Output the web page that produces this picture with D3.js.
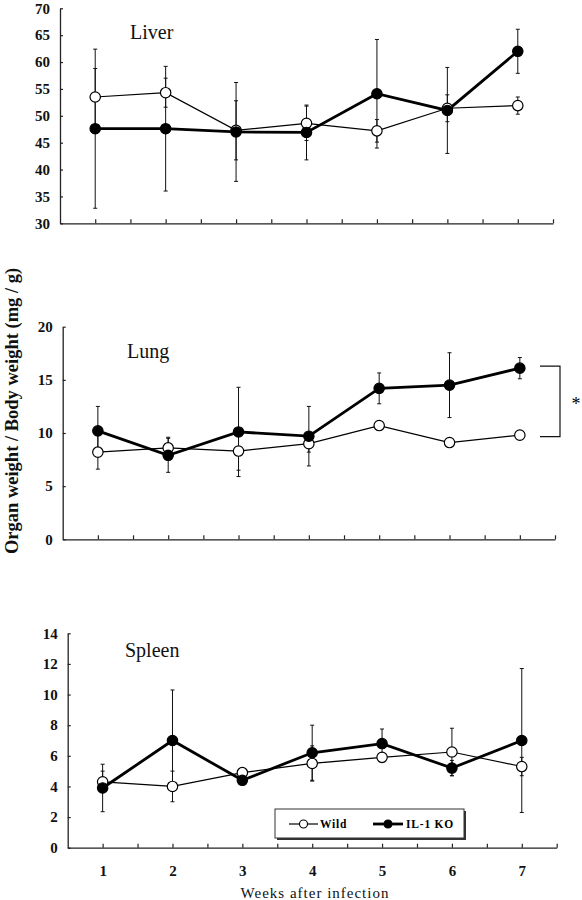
<!DOCTYPE html>
<html><head><meta charset="utf-8">
<script src="https://cdn.jsdelivr.net/npm/d3@7"></script>
<style>body{margin:0;background:#fff}svg{display:block}</style>
</head><body>
<svg id="c" width="582" height="900"></svg>
<script>
const weeks = [1, 2, 3, 4, 5, 6, 7];
const weekTicks = [1, 1.5, 2, 2.5, 3, 3.5, 4, 4.5, 5, 5.5, 6, 6.5, 7, 7.5];

const liverWild    = [53.5, 54.3, 47.3, 48.6, 47.2, 51.4, 51.9];
const liverWildErr = [5.3, 2.7, 5.5, 3.2, 2.1, 2.5, 1.6];
const liverKO      = [47.6, 47.6, 47.0, 46.9, 54.1, 51.0, 62.0];
const liverKOErr   = [14.8, 11.6, 9.2, 5.1, 10.1, 8.0, 4.1];
const liverTicks   = [30, 35, 40, 45, 50, 55, 60, 65, 70];

const lungWild    = [8.2, 8.6, 8.3, 9.0, 10.7, 9.1, 9.8];
const lungWildErr = [1.6, 1.0, 1.8, 0.8, 0.3, 0.3, 0.3];
const lungKO      = [10.2, 7.9, 10.1, 9.7, 14.2, 14.5, 16.1];
const lungKOErr   = [2.3, 1.6, 4.2, 2.8, 1.45, 3.05, 1.0];
const lungTicks   = [0, 5, 10, 15, 20];

const spleenWild    = [4.3, 4.0, 4.9, 5.5, 5.9, 6.25, 5.3];
const spleenWildErr = [0.7, 1.0, 0.2, 1.15, 0.3, 1.55, 0.6];
const spleenKO      = [3.9, 7.0, 4.4, 6.2, 6.8, 5.2, 7.0];
const spleenKOErr   = [1.55, 3.3, 0.2, 1.8, 0.95, 0.5, 4.7];
const spleenTicks   = [0, 2, 4, 6, 8, 10, 12, 14];

const sigBracket = [9.65, 16.3]; // lung significance bracket range

const svg = d3.select("#c");
const serif = "'Liberation Serif','Times New Roman',serif";

const panels = [
  {name:"Liver", wild:liverWild, wildErr:liverWildErr, ko:liverKO, koErr:liverKOErr, ticks:liverTicks,
   x0:60, x1:553, yTop:8.3, yBot:223.3, title:[130, 39]},
  {name:"Lung", wild:lungWild, wildErr:lungWildErr, ko:lungKO, koErr:lungKOErr, ticks:lungTicks,
   x0:62.7, x1:555, yTop:326.7, yBot:539.3, title:[127, 358]},
  {name:"Spleen", wild:spleenWild, wildErr:spleenWildErr, ko:spleenKO, koErr:spleenKOErr, ticks:spleenTicks,
   x0:67.7, x1:556.7, yTop:633.3, yBot:847.7, title:[125, 657]}
];

panels.forEach((p, pi) => {
  const x = d3.scaleLinear().domain([0.5, 7.5]).range([p.x0, p.x1]);
  const y = d3.scaleLinear().domain([p.ticks[0], p.ticks[p.ticks.length-1]]).range([p.yBot, p.yTop]);
  const g = svg.append("g");

  // y axis
  const ya = g.append("g").attr("transform", `translate(${p.x0},0)`)
    .call(d3.axisLeft(y).tickValues(p.ticks).tickSize(-3).tickPadding(10).tickSizeOuter(0));
  ya.attr("font-family", serif);
  ya.select(".domain").attr("stroke", "#222").attr("stroke-width", 1.3);
  ya.selectAll(".tick line").attr("stroke", "#222").attr("stroke-width", 1.2);
  ya.selectAll(".tick text").attr("font-family", serif).attr("font-weight", "bold")
    .attr("font-size", 15).attr("fill", "#111");

  // x axis
  const xa = g.append("g").attr("transform", `translate(0,${p.yBot})`)
    .call(d3.axisBottom(x).tickValues(weekTicks).tickSize(-4).tickSizeOuter(0)
      .tickFormat(d => (pi === 2 && Number.isInteger(d) && d <= 7) ? d : ""));
  xa.attr("font-family", serif);
  xa.select(".domain").attr("stroke", "#222").attr("stroke-width", 1.3);
  xa.selectAll(".tick line").attr("stroke", "#222").attr("stroke-width", 1.2);
  xa.selectAll(".tick text").attr("font-family", serif).attr("font-weight", "bold")
    .attr("font-size", 15).attr("fill", "#111").attr("dy", "1.7em");

  // title
  g.append("text").attr("x", p.title[0]).attr("y", p.title[1]).text(p.name)
    .attr("font-family", serif).attr("font-size", 20).attr("fill", "#111");

  const series = [
    {v:p.wild, e:p.wildErr, fill:"#fff", w:1.2},
    {v:p.ko, e:p.koErr, fill:"#000", w:2.8}
  ];
  // error bars
  series.forEach(s => {
    const eg = g.append("g").attr("stroke", "#111").attr("stroke-width", 1);
    weeks.forEach((wk, i) => {
      const cx = x(wk), yh = y(s.v[i] + s.e[i]), yl = y(s.v[i] - s.e[i]);
      eg.append("line").attr("x1", cx).attr("x2", cx).attr("y1", yh).attr("y2", yl);
      eg.append("line").attr("x1", cx-2).attr("x2", cx+2).attr("y1", yh).attr("y2", yh);
      eg.append("line").attr("x1", cx-2).attr("x2", cx+2).attr("y1", yl).attr("y2", yl);
    });
  });
  const line = d3.line().x((d, i) => x(weeks[i])).y(d => y(d));
  series.forEach(s => {
    g.append("path").attr("d", line(s.v)).attr("fill", "none").attr("stroke", "#000")
      .attr("stroke-width", s.w);
  });
  series.forEach(s => {
    g.selectAll(null).data(s.v).enter().append("circle")
      .attr("cx", (d, i) => x(weeks[i])).attr("cy", d => y(d)).attr("r", 5.2)
      .attr("fill", s.fill).attr("stroke", "#000").attr("stroke-width", 1.2);
  });

  if (pi === 1) {
    const bx = 540, bx2 = 560;
    g.append("path")
      .attr("d", `M${bx},${y(sigBracket[1])}H${bx2}V${y(sigBracket[0])}H${bx}`)
      .attr("fill", "none").attr("stroke", "#111").attr("stroke-width", 1.2);
    g.append("text").attr("x", 576).attr("y", (y(sigBracket[0]) + y(sigBracket[1]))/2 + 9)
      .attr("text-anchor", "middle").attr("font-family", serif).attr("font-size", 18).text("*");
  }

  if (pi === 2) {
    // legend
    const lg = g.append("g");
    lg.append("rect").attr("x", 277).attr("y", 811).attr("width", 189).attr("height", 29).attr("fill", "#333");
    lg.append("rect").attr("x", 275).attr("y", 809).attr("width", 189).attr("height", 29)
      .attr("fill", "#fff").attr("stroke", "#333").attr("stroke-width", 1);
    const items = [{t:"Wild", fill:"#fff", w:1.2, x1:289, x2:318, tx:320},
                   {t:"IL-1 KO", fill:"#000", w:2.8, x1:373, x2:403, tx:406}];
    items.forEach(it => {
      lg.append("line").attr("x1", it.x1).attr("x2", it.x2).attr("y1", 824).attr("y2", 824)
        .attr("stroke", "#000").attr("stroke-width", it.w);
      lg.append("circle").attr("cx", (it.x1+it.x2)/2).attr("cy", 824).attr("r", 4)
        .attr("fill", it.fill).attr("stroke", "#000").attr("stroke-width", 1.1);
      lg.append("text").attr("x", it.tx).attr("y", 828).text(it.t)
        .attr("font-family", serif).attr("font-weight", "bold").attr("font-size", 11.5)
        .attr("letter-spacing", "0.8px");
    });
  }
});

svg.append("text").attr("x", 315).attr("y", 898).attr("text-anchor", "middle")
  .attr("font-family", serif).attr("font-size", 15).attr("letter-spacing", "1px")
  .attr("fill", "#111").text("Weeks after infection");

svg.append("text").attr("transform", "translate(18,411) rotate(-90)").attr("text-anchor", "middle")
  .attr("font-family", serif).attr("font-weight", "bold").attr("font-size", 18.5)
  .attr("fill", "#111").text("Organ weight / Body weight (mg / g)");
</script>
</body></html>
